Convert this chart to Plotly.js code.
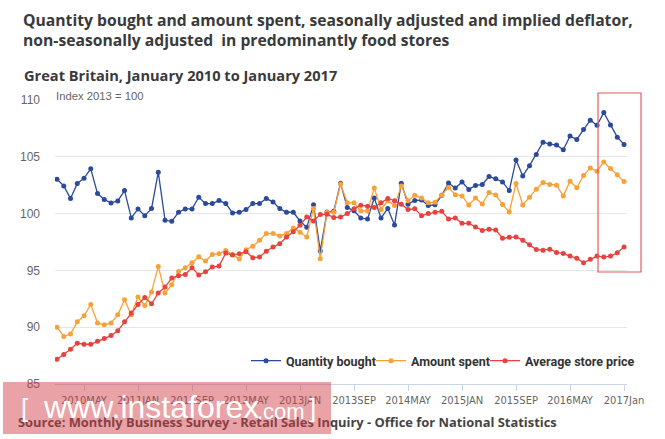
<!DOCTYPE html>
<html>
<head>
<meta charset="utf-8">
<script src="https://cdn.plot.ly/plotly-3.0.1.min.js"></script>
<style>html,body{margin:0;padding:0;background:#fff;}#chart{width:665px;height:439px;}</style>
</head>
<body>
<div id="chart"></div>
<script>
// ---- data ----
const years = [2010, 2011, 2012, 2013, 2014, 2015, 2016, 2017];
const monthNames = ["JAN","FEB","MAR","APR","MAY","JUN","JUL","AUG","SEP","OCT","NOV","DEC"];
const months = [];
years.forEach(function (y) {
  monthNames.forEach(function (m) {
    if (y < 2017 || m === "JAN") months.push(y + m);
  });
});

const quantityBought = [
  103.03, 102.44, 101.32, 102.65, 103.12, 103.94, 101.76, 101.24, 100.94, 101.12, 102.03, 99.62,
  100.41, 99.82, 100.44, 103.65, 99.41, 99.32, 100.12, 100.41, 100.41, 101.44, 100.88, 100.88,
  101.15, 100.88, 100.06, 100.12, 100.35, 100.88, 100.88, 101.32, 101.03, 100.44, 100.12, 100.12,
  99.35, 98.79, 100.79, 96.71, 100.15, 100.21, 102.68, 100.54, 100.24, 99.61, 99.52, 101.37,
  99.61, 100.45, 98.99, 102.68, 100.83, 101.16, 101.19, 100.71, 100.77, 101.61, 102.70, 102.25,
  102.78, 102.13, 102.48, 102.56, 103.26, 103.06, 102.79, 102.03, 104.72, 103.32, 104.22, 105.21,
  106.29, 106.12, 106.03, 105.62, 106.82, 106.53, 107.40, 108.22, 107.78, 108.89, 107.81, 106.73,
  106.09
];
const amountSpent = [
  90.00, 89.18, 89.41, 90.47, 91.00, 92.00, 90.38, 90.21, 90.38, 91.09, 92.41, 91.09,
  92.65, 91.91, 93.09, 95.35, 93.00, 93.74, 94.91, 95.24, 95.68, 96.20, 95.82, 96.41,
  96.47, 96.76, 96.41, 96.00, 96.82, 97.12, 97.65, 98.24, 98.24, 98.03, 98.24, 98.74,
  98.35, 97.94, 100.44, 96.03, 100.12, 100.12, 102.60, 100.95, 100.95, 100.24, 100.24, 102.26,
  100.36, 101.13, 100.71, 102.44, 101.13, 101.61, 101.37, 100.95, 101.01, 101.61, 102.30, 101.66,
  101.56, 100.75, 101.38, 100.84, 101.86, 101.63, 100.81, 100.14, 102.65, 100.75, 101.45, 102.15,
  102.73, 102.56, 102.50, 101.54, 102.85, 102.27, 103.35, 104.02, 103.73, 104.54, 103.96, 103.43,
  102.82
];
const averageStorePrice = [
  87.18, 87.59, 88.06, 88.59, 88.50, 88.50, 88.76, 89.00, 89.26, 89.68, 90.47, 91.26,
  92.00, 92.62, 92.06, 93.00, 93.53, 94.32, 94.53, 94.65, 95.24, 94.60, 94.88, 95.29,
  95.38, 96.53, 96.35, 96.47, 96.65, 96.12, 96.18, 96.68, 97.06, 97.35, 97.94, 98.41,
  98.97, 99.71, 99.35, 99.91, 99.94, 99.65, 99.70, 100.00, 100.42, 100.74, 100.65, 100.54,
  100.95, 101.34, 101.13, 100.83, 100.36, 100.42, 99.82, 100.00, 100.12, 100.20, 99.53, 99.62,
  99.14, 99.14, 98.83, 98.52, 98.62, 98.56, 97.83, 97.92, 97.95, 97.66, 97.25, 96.84,
  96.78, 96.87, 96.58, 96.49, 96.26, 96.08, 95.67, 95.99, 96.26, 96.17, 96.26, 96.55,
  97.05
];

const tickCats = ["2010MAY","2011JAN","2011SEP","2012MAY","2013JAN","2013SEP","2014MAY","2015JAN","2015SEP","2016MAY","2017JAN"];
const tickLabels = ["2010MAY","2011JAN","2011SEP","2012MAY","2013JAN","2013SEP","2014MAY","2015JAN","2015SEP","2016MAY","2017Jan"];
const yTicks = [85, 90, 95, 100, 105, 110];

// ---- styles ----
const BLUE = "#2c4a9c", ORANGE = "#f7a136", RED = "#e8423f";
const mk = function (name, y, color, lw) {
  return {
    type: "scatter", mode: "lines+markers", name: name, x: months, y: y,
    line: { color: color, width: 1.3 },
    marker: { color: color, size: 5 },
    legendwidth: lw,
    hoverinfo: "x+y+name"
  };
};
const traces = [
  mk("Quantity bought", quantityBought, BLUE, 80),
  mk("Amount spent", amountSpent, ORANGE, 69),
  mk("Average store price", averageStorePrice, RED, 108)
];

const W = 665, H = 439, L = 55, R = 38, T = 100, B = 55;
const pw = W - L - R, ph = H - T - B;
const px = function (x) { return (x - L) / pw; };
const py = function (y) { return (H - B - y) / ph; };
const titleFont = { family: "Open Sans, sans-serif", size: 15.7, color: "#3a3a3a", weight: "bold" };
const tickFamily = "DejaVu Sans Condensed, Liberation Sans Narrow, Arial Narrow, Liberation Sans, sans-serif";

const layout = {
  width: W, height: H,
  margin: { l: L, r: R, t: T, b: B, pad: 0 },
  paper_bgcolor: "#ffffff", plot_bgcolor: "#ffffff",
  font: { family: "Liberation Sans, Arial, sans-serif", size: 12, color: "#666666" },
  showlegend: true,
  legend: {
    orientation: "h", x: px(246), xanchor: "left", y: py(361), yanchor: "middle",
    font: { family: "Roboto, sans-serif", size: 12.5, color: "#333333", weight: "bold" },
    bgcolor: "rgba(0,0,0,0)", itemwidth: 30, traceorder: "normal"
  },
  xaxis: {
    type: "category", categoryorder: "array", categoryarray: months,
    range: [-0.3, 84.44], tickmode: "array", tickvals: tickCats, ticktext: tickLabels,
    tickangle: 0,
    ticks: "outside", ticklen: 6, tickcolor: "#ccd6eb", tickwidth: 1,
    showline: true, linecolor: "#ccd6eb", linewidth: 1, showgrid: false, zeroline: false,
    tickfont: { family: tickFamily, size: 11, color: "#666666" },
    fixedrange: true
  },
  yaxis: {
    range: [85, 110], tickmode: "array", tickvals: yTicks,
    showgrid: true, gridcolor: "#e6e6e6", gridwidth: 1, zeroline: false, showline: false,
    ticks: "", ticklabelstandoff: 14,
    tickfont: { family: "Liberation Sans, Arial, sans-serif", size: 12, color: "#666666" },
    fixedrange: true
  },
  shapes: [
    { type: "rect", xref: "paper", yref: "paper", x0: px(598), x1: px(641), y0: py(272), y1: py(93),
      line: { color: "#e85a5a", width: 1.2 }, fillcolor: "rgba(0,0,0,0)", layer: "above" }
  ],
  annotations: [
    { text: "Quantity bought and amount spent, seasonally adjusted and implied deflator,", xref: "paper", yref: "paper",
      x: px(21), y: py(20), xanchor: "left", yanchor: "middle", showarrow: false, font: titleFont },
    { text: "non-seasonally adjusted\u00a0 in predominantly food stores", xref: "paper", yref: "paper",
      x: px(21), y: py(40), xanchor: "left", yanchor: "middle", showarrow: false, font: titleFont },
    { text: "Great Britain, January 2010 to January 2017", xref: "paper", yref: "paper",
      x: px(22), y: py(75), xanchor: "left", yanchor: "middle", showarrow: false,
      font: { family: "Open Sans, sans-serif", size: 14.6, color: "#3a3a3a", weight: "bold" } },
    { text: "Index 2013 = 100", xref: "paper", yref: "paper",
      x: px(54), y: py(96), xanchor: "left", yanchor: "middle", showarrow: false,
      font: { family: "Liberation Sans, Arial, sans-serif", size: 11.3, color: "#666666" } },
    { text: "Source: Monthly Business Survey - Retail Sales Inquiry - Office for National Statistics",
      xref: "paper", yref: "paper", x: px(16), y: py(422), xanchor: "left", yanchor: "middle", showarrow: false,
      font: { family: "Open Sans, sans-serif", size: 12.9, color: "#444444", weight: "bold" } },
    { text: " ", xref: "paper", yref: "paper", x: px(3), y: py(382), xanchor: "left", yanchor: "top",
      width: 328, height: 52, showarrow: false, bgcolor: "rgba(210,60,70,0.48)", borderpad: 0, borderwidth: 0 },
    { text: "[", xref: "paper", yref: "paper", x: px(19), y: py(408), xanchor: "left", yanchor: "middle",
      showarrow: false, font: { family: "Liberation Sans, Arial, sans-serif", size: 26, color: "#ffffff" } },
    { text: "www.instaforex", xref: "paper", yref: "paper", x: px(41), y: py(407), xanchor: "left", yanchor: "middle",
      showarrow: false, font: { family: "Liberation Sans, Arial, sans-serif", size: 32, color: "#ffffff" } },
    { text: ".com", xref: "paper", yref: "paper", x: px(255), y: py(411), xanchor: "left", yanchor: "middle",
      showarrow: false, font: { family: "Liberation Sans, Arial, sans-serif", size: 22, color: "#ffffff" } },
    { text: "]", xref: "paper", yref: "paper", x: px(307), y: py(408), xanchor: "left", yanchor: "middle",
      showarrow: false, font: { family: "Liberation Sans, Arial, sans-serif", size: 26, color: "#ffffff" } }
  ]
};

Plotly.newPlot("chart", traces, layout, { displayModeBar: false, staticPlot: true });
</script>
</body>
</html>
